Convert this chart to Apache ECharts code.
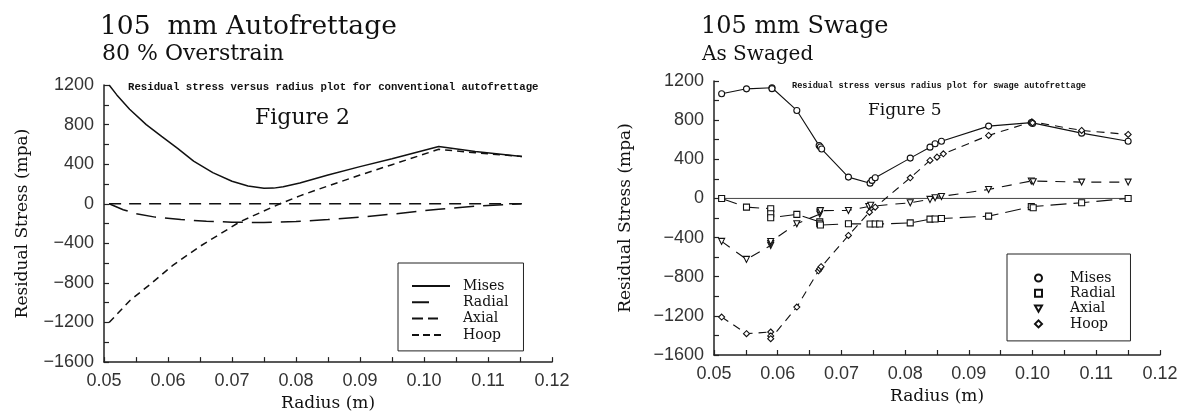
<!DOCTYPE html>
<html><head><meta charset="utf-8">
<script src="https://cdn.jsdelivr.net/npm/echarts@6/dist/echarts.min.js"></script>
<style>html,body{margin:0;padding:0;background:#fff}#c{width:1189px;height:417px}</style>
</head><body><div id="c"></div>
<script>
// ---------- data (radius m, stress MPa) ----------
const legendNames = ['Mises', 'Radial', 'Axial', 'Hoop'];

// Figure 2: conventional autofrettage, 80 % overstrain
const leftMises = [[0.0508,1200],[0.052,1100],[0.054,955],[0.0566,800],[0.059,680],[0.0615,560],[0.064,430],[0.067,315],[0.070,228],[0.0725,180],[0.075,157],[0.0765,158],[0.078,172],[0.0806,210],[0.085,290],[0.09,375],[0.095,455],[0.1023,578],[0.108,528],[0.1153,478]];
const leftRadial = [[0.0508,0],[0.053,-60],[0.055,-100],[0.058,-135],[0.062,-160],[0.066,-176],[0.07,-186],[0.075,-190],[0.08,-180],[0.085,-160],[0.09,-135],[0.095,-105],[0.1023,-55],[0.108,-25],[0.1153,0]];
const leftAxial = [[0.0508,0],[0.08,0],[0.1153,0]];
const leftHoop = [[0.0508,-1200],[0.0541,-975],[0.0572,-815],[0.0608,-620],[0.065,-430],[0.0713,-180],[0.0775,0],[0.0806,80],[0.085,180],[0.09,290],[0.095,395],[0.1023,550],[0.108,515],[0.1153,478]];

// Figure 5: as swaged (clusters = overlapping measurements)
const rightMises = [[0.0512,1069],[0.0551,1120],[0.0591,1131],[0.0591,1122],[0.063,899],[0.0665,540],[0.0667,525],[0.0669,505],[0.0711,218],[0.0745,156],[0.0748,184],[0.0753,211],[0.0808,412],[0.0839,524],[0.0847,559],[0.0857,585],[0.0931,739],[0.0998,775],[0.1,766],[0.1077,667],[0.115,585]];
const rightRadial = [[0.0512,0],[0.0551,-89],[0.0589,-105],[0.0589,-157],[0.0589,-197],[0.063,-163],[0.0666,-240],[0.0666,-258],[0.0667,-272],[0.0711,-258],[0.0745,-262],[0.0753,-262],[0.076,-262],[0.0808,-250],[0.0839,-212],[0.0847,-210],[0.0857,-205],[0.0931,-181],[0.0998,-84],[0.1001,-95],[0.1077,-44],[0.115,0]];
const rightAxial = [[0.0512,-439],[0.0551,-623],[0.0589,-480],[0.0589,-460],[0.0589,-440],[0.063,-259],[0.0666,-160],[0.0666,-140],[0.0667,-125],[0.0711,-123],[0.0743,-82],[0.0746,-70],[0.0808,-44],[0.0839,-10],[0.0847,7],[0.0857,20],[0.0931,92],[0.0998,178],[0.1001,170],[0.1077,167],[0.115,167]];
const rightHoop = [[0.0512,-1212],[0.0551,-1382],[0.0589,-1365],[0.0589,-1405],[0.0589,-1433],[0.063,-1110],[0.0664,-740],[0.0666,-718],[0.0668,-698],[0.0711,-378],[0.0744,-140],[0.0753,-90],[0.0808,211],[0.0839,388],[0.085,422],[0.086,456],[0.0931,644],[0.0999,783],[0.1,772],[0.1077,695],[0.115,654]];
const rightZero = [[0.0512,0],[0.115,0]];

// ---------- chart ----------
const SERIF = '"DejaVu Serif", "Liberation Serif", serif';
const SANS = '"Liberation Sans", Arial, sans-serif';
const MONO = '"Liberation Mono", "DejaVu Sans Mono", monospace';
const INK = '#111';

function xAxisCfg(g) {
  return {
    type: 'value', gridIndex: g, min: 0.05, max: 0.12, interval: 0.01,
    name: 'Radius (m)', nameLocation: 'middle', nameGap: 31,
    nameTextStyle: {fontFamily: SERIF, fontSize: 17, color: INK},
    axisLine: {onZero: false, lineStyle: {color: '#222', width: 1.5}},
    axisTick: {inside: true, length: 5, lineStyle: {color: '#222', width: 1.2}},
    minorTick: {show: true, splitNumber: 2, length: 5, lineStyle: {color: '#222', width: 1.2}},
    splitLine: {show: false}, minorSplitLine: {show: false},
    axisLabel: {margin: 10, fontFamily: SANS, fontSize: 18, color: '#333', formatter: v => v.toFixed(2)}
  };
}
function yAxisCfg(g, gap) {
  return {
    type: 'value', gridIndex: g, min: -1600, max: 1200, interval: 400,
    name: 'Residual Stress (mpa)', nameLocation: 'middle', nameGap: gap,
    nameTextStyle: {fontFamily: SERIF, fontSize: 17, color: INK},
    axisLine: {show: true, onZero: false, lineStyle: {color: '#222', width: 1.5}},
    axisTick: {show: true, inside: true, length: 5, lineStyle: {color: '#222', width: 1.2}},
    minorTick: {show: true, splitNumber: 2, length: 5, lineStyle: {color: '#222', width: 1.2}},
    splitLine: {show: false}, minorSplitLine: {show: false},
    axisLabel: {margin: 10, fontFamily: SANS, fontSize: 18, color: '#333',
      formatter: v => v < 0 ? '\u2212' + Math.abs(v) : String(v)}
  };
}
function leftLine(name, data, type) {
  return {type: 'line', name, xAxisIndex: 0, yAxisIndex: 0, data, symbol: 'none',
    lineStyle: {color: INK, width: 1.5, type}, itemStyle: {color: INK}, silent: true};
}
function rightLine(name, data, type, symbol, rot) {
  return {type: 'line', name, xAxisIndex: 1, yAxisIndex: 1, data, symbol, symbolSize: 6,
    symbolRotate: rot || 0, showAllSymbol: true,
    lineStyle: {color: INK, width: 1.1, type},
    itemStyle: {color: '#fff', borderColor: INK, borderWidth: 1.1}, silent: true};
}
const tStyle = (size, fam, weight) => ({fontFamily: fam || SERIF, fontSize: size, fontWeight: weight || 'normal', color: INK});

// legend line samples (solid, long dash, two dashes, three short dashes)
const lineIcons = [
  'path://M0,0H38V2H0Z',
  'path://M0,0H17V2H0Z M38,2',
  'path://M0,0H11V2H0Z M16,0H26V2H16Z M38,2',
  'path://M0,0H7V2H0Z M11,0H18V2H11Z M22,0H29V2H22Z M38,2'
];

const option = {
  animation: false,
  backgroundColor: '#fff',
  title: [
    {text: '105  mm Autofrettage', left: 100, top: 13.5, padding: 0, textStyle: tStyle(26.5)},
    {text: '80 % Overstrain', left: 102, top: 43.5, padding: 0, textStyle: tStyle(22)},
    {text: '105 mm Swage', left: 701, top: 15, padding: 0, textStyle: tStyle(24)},
    {text: 'As Swaged', left: 702, top: 45, padding: 0, textStyle: tStyle(20)},
    {text: 'Figure 2', left: 255, top: 107, padding: 0, textStyle: tStyle(22)},
    {text: 'Figure 5', left: 868, top: 102.5, padding: 0, textStyle: tStyle(17)},
    {text: 'Residual stress versus radius plot for conventional autofrettage', left: 128, top: 82, padding: 0, textStyle: tStyle(10.7, MONO, 'bold')},
    {text: 'Residual stress versus radius plot for swage autofrettage', left: 792, top: 81, padding: 0, textStyle: tStyle(8.6, MONO, 'bold')}
  ],
  grid: [
    {left: 104, top: 85, width: 448, height: 281},
    {left: 714, top: 81, width: 446, height: 274}
  ],
  xAxis: [xAxisCfg(0), xAxisCfg(1)],
  yAxis: [yAxisCfg(0, 73), yAxisCfg(1, 80)],
  legend: [
    {left: 398, top: 263, orient: 'vertical', padding: [15.5, 15, 8.5, 14],
      itemWidth: 38, itemHeight: 2, itemGap: 1.3, borderColor: '#222', borderWidth: 1,
      backgroundColor: '#fff', selectedMode: false,
      data: legendNames.map((n, i) => ({name: n, icon: lineIcons[i]})),
      textStyle: {fontFamily: SERIF, fontSize: 14, color: INK, lineHeight: 15, padding: [0, 0, 0, 8]}},
    {left: 1007, top: 254, orient: 'vertical', padding: [16.5, 15, 9.5, 27],
      itemWidth: 7, itemHeight: 7, itemGap: 0.3, borderColor: '#222', borderWidth: 1,
      backgroundColor: '#fff', selectedMode: false,
      data: [
        {name: legendNames[0] + ' ', icon: 'circle'},
        {name: legendNames[1] + ' ', icon: 'rect'},
        {name: legendNames[2] + ' ', icon: 'path://M0,0L10,0L5,9Z'},
        {name: legendNames[3] + ' ', icon: 'diamond'}
      ],
      formatter: n => n.trim(),
      textStyle: {fontFamily: SERIF, fontSize: 14, color: INK, lineHeight: 15, padding: [0, 0, 0, 23]}}
  ],
  series: [
    leftLine(legendNames[0], leftMises, 'solid'),
    leftLine(legendNames[1], leftRadial, [20, 9]),
    leftLine(legendNames[2], leftAxial, [12, 8]),
    leftLine(legendNames[3], leftHoop, [7, 5]),
    {type: 'line', name: 'zero', xAxisIndex: 1, yAxisIndex: 1, data: rightZero, symbol: 'none',
      lineStyle: {color: '#444', width: 1}, silent: true, z: 1},
    rightLine(legendNames[0] + ' ', rightMises, 'solid', 'circle'),
    rightLine(legendNames[1] + ' ', rightRadial, [16, 7], 'rect'),
    rightLine(legendNames[2] + ' ', rightAxial, [10, 8], 'triangle', 180),
    rightLine(legendNames[3] + ' ', rightHoop, [8, 6], 'diamond')
  ]
};
const chart = echarts.init(document.getElementById('c'));
chart.setOption(option);
</script></body></html>
